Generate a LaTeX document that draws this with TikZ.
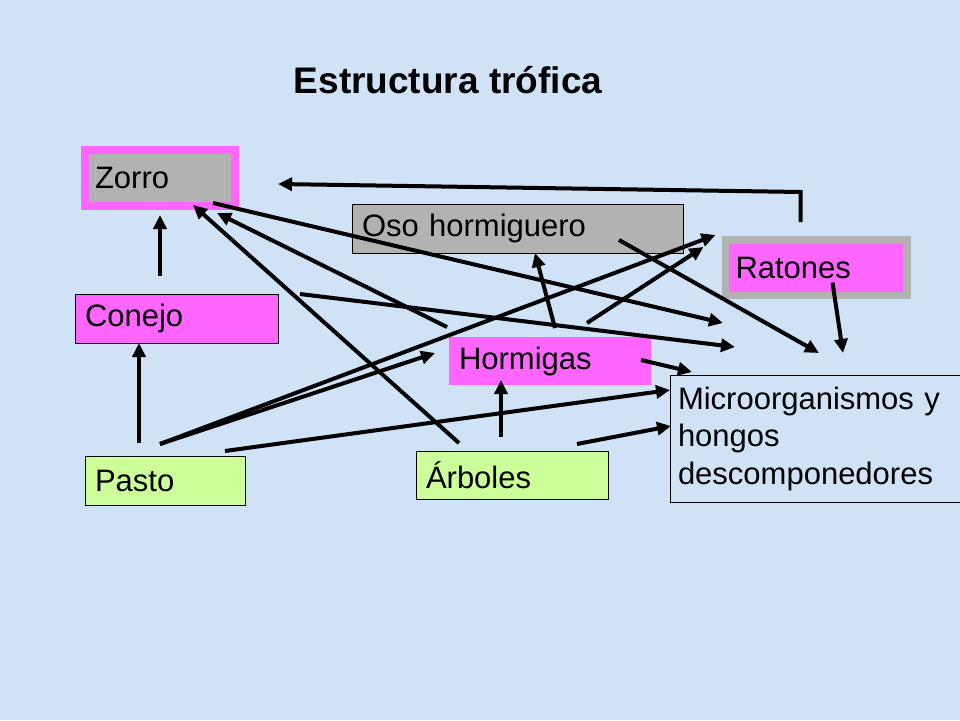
\documentclass[tikz,border=0pt]{standalone}
\usepackage{fontspec}
\setmainfont{Liberation Sans}
\usepackage{tikz}
\usetikzlibrary{arrows.meta, calc}
\definecolor{bgcolor}{RGB}{207, 226, 246}
\definecolor{pinkcolor}{RGB}{255, 102, 255}
\definecolor{greycolor}{RGB}{178, 178, 178}
\definecolor{plantcolor}{RGB}{204, 255, 153}

\begin{document}
\begin{tikzpicture}[
    x=1pt, y=-1pt,
    box/.style={anchor=north west, outer sep=0pt, inner xsep=10pt, align=left, line width=1pt, font=\fontsize{31}{37.5}\selectfont},
    arr/.style={line width=4pt, -{Triangle[length=14pt, width=13pt]}},
]
    % Background
    \fill[bgcolor] (0,0) rectangle (960,720);
    \useasboundingbox (0,0) rectangle (960,720);

    % Title
    \node[font=\fontsize{37}{44}\selectfont\bfseries, anchor=base] (title) at (448,93) {Estructura trófica};

    % Boxes
    \node[box, fill=greycolor, draw=pinkcolor, line width=8pt, text width=130pt, minimum height=56pt] (zorro) at (85,150) {Zorro};
    \node[box, fill=pinkcolor, draw=black, text width=183pt, minimum height=49pt] (conejo) at (75,294) {Conejo};
    \node[box, fill=greycolor, draw=black, text width=311pt, minimum height=49pt] (oso) at (352,204) {Oso hormiguero};
    \node[box, fill=pinkcolor, draw=greycolor, line width=7.5pt, text width=161.5pt, minimum height=55.5pt] (ratones) at (725.5,240) {Ratones};
    \node[box, fill=pinkcolor, text width=182pt, minimum height=48pt] (hormigas) at (449,337) {Hormigas};
    \node[box, fill=plantcolor, draw=black, text width=140pt, minimum height=49pt] (pasto) at (85,456) {Pasto};
    \node[box, fill=plantcolor, draw=black, text width=172pt, minimum height=48pt] (arboles) at (416,451) {Árboles};
    \node[box, draw=black, inner xsep=8pt, text width=300pt, minimum height=127pt] (micro) at (670,375) {Microorganismos y\\hongos\\descomponedores};

    % Arrows to Zorro
    \draw[arr] ([shift={(85,-18)}]conejo.north west) -- ([shift={(75,9)}]zorro.south west);
    \draw[arr] ([shift={(75,-18)}]ratones.north west) -- ++(0,-30) -- ([shift={(43,6)}]zorro.east);
    \draw[arr] ([shift={(-2,-10)}]hormigas.north west) -- ([shift={(-18,7)}]zorro.south east);
    \draw[arr] ([shift={(43,-8)}]arboles.north west) -- ([shift={(108,-1)}]zorro.south west);

    % Arrows from Pasto and Arboles
    \draw[arr] ([shift={(54,-13)}]pasto.north west) -- ([shift={(64,0)}]conejo.south west);
    \draw[arr] ([shift={(75,-12)}]pasto.north west) -- ([shift={(-10,-5)}]ratones.north west);
    \draw[arr] ([shift={(75,-12)}]pasto.north west) -- ([shift={(-14,-8)}]hormigas.west);
    \draw[arr] ([shift={(85,-14)}]arboles.north west) -- ([shift={(52,-5)}]hormigas.south west);

    % Arrows from Hormigas
    \draw[arr] ([shift={(106,-9)}]hormigas.north west) -- ([shift={(183,0)}]oso.south west);
    \draw[arr] ([shift={(138,-14)}]hormigas.north west) -- ([shift={(-22,7)}]ratones.north west);

    % Arrows to Microorganismos
    \draw[arr] ([shift={(-22,-3)}]zorro.south east) -- ([shift={(53,-52)}]micro.north west);
    \draw[arr] ([shift={(22,0)}]conejo.north east) -- ([shift={(65,-28)}]micro.north west);
    \draw[arr] ([shift={(-64,-13)}]oso.south east) -- ([shift={(149,-22)}]micro.north west);
    \draw[arr] ([shift={(107,-13)}]ratones.south west) -- ([shift={(173,-22)}]micro.north west);
    \draw[arr] ([shift={(-10,-1)}]hormigas.east) -- ([shift={(22,-3)}]micro.north west);
    \draw[arr] ([shift={(-20,-5)}]pasto.north east) -- ([shift={(0,15)}]micro.north west);
    \draw[arr] ([shift={(-31,-7)}]arboles.north east) -- ([shift={(1,51)}]micro.north west);

\end{tikzpicture}
\end{document}
